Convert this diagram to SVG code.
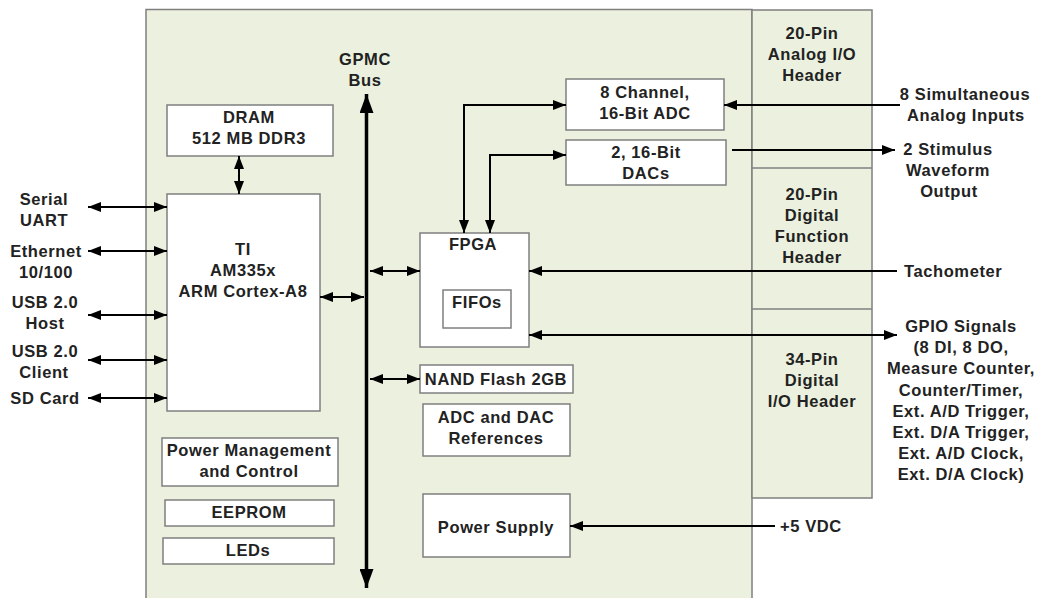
<svg xmlns="http://www.w3.org/2000/svg" width="1037" height="598" viewBox="0 0 1037 598">
<defs>
<style>
.board{fill:#EBF1DE;stroke:#7f7f7f;stroke-width:1.5}
.box{fill:#ffffff;stroke:#7f7f7f;stroke-width:1.5}
.ln{fill:none;stroke:#000;stroke-width:2}
.t{font-family:"Liberation Sans",Arial,sans-serif;font-weight:bold;font-size:16.5px;letter-spacing:0.6px;fill:#222;text-anchor:middle}
.s{text-anchor:start}
</style>
<marker id="ah" markerUnits="userSpaceOnUse" markerWidth="13" markerHeight="10" refX="13" refY="5" orient="auto-start-reverse" viewBox="0 0 13 10">
<path d="M0,0 L13,5 L0,10 z" fill="#000"/>
</marker>
<marker id="bh" markerUnits="userSpaceOnUse" markerWidth="19" markerHeight="14" refX="19" refY="7" orient="auto-start-reverse" viewBox="0 0 19 14">
<path d="M0,0 L19,7 L0,14 z" fill="#000"/>
</marker>
</defs>
<rect width="1037" height="598" fill="#fff"/>
<g id="board">
<rect class="board" x="146" y="9.5" width="606" height="600"/>
</g>
<g id="headers">
<rect class="board" x="752" y="10" width="120" height="488"/>
<line x1="752" y1="168" x2="872" y2="168" stroke="#7f7f7f" stroke-width="1.5"/>
<line x1="752" y1="309" x2="872" y2="309" stroke="#7f7f7f" stroke-width="1.5"/>
<text class="t" x="812" y="39">20-Pin</text>
<text class="t" x="812" y="60">Analog I/O</text>
<text class="t" x="812" y="81">Header</text>
<text class="t" x="812" y="200">20-Pin</text>
<text class="t" x="812" y="221">Digital</text>
<text class="t" x="812" y="242">Function</text>
<text class="t" x="812" y="263">Header</text>
<text class="t" x="812" y="365">34-Pin</text>
<text class="t" x="812" y="386">Digital</text>
<text class="t" x="812" y="407">I/O Header</text>
</g>
<g id="dram">
<rect class="box" x="167" y="105" width="166" height="51"/>
<text class="t" x="249" y="123">DRAM</text>
<text class="t" x="249" y="144">512 MB DDR3</text>
</g>
<g id="cpu">
<rect class="box" x="167" y="194" width="153" height="217"/>
<text class="t" x="243" y="255">TI</text>
<text class="t" x="243" y="276">AM335x</text>
<text class="t" x="243" y="297">ARM Cortex-A8</text>
</g>
<g id="pmc">
<rect class="box" x="162" y="438" width="176" height="48"/>
<text class="t" x="249" y="456">Power Management</text>
<text class="t" x="249" y="477">and Control</text>
</g>
<g id="eeprom">
<rect class="box" x="165" y="500" width="169" height="26"/>
<text class="t" x="249" y="518">EEPROM</text>
</g>
<g id="leds">
<rect class="box" x="163" y="538" width="171" height="26"/>
<text class="t" x="248" y="556">LEDs</text>
</g>
<g id="fpga">
<rect class="box" x="420" y="233" width="109" height="114"/>
<text class="t" x="473" y="250">FPGA</text>
<rect class="box" x="443" y="290" width="68" height="38"/>
<text class="t" x="477" y="308">FIFOs</text>
</g>
<g id="nand">
<rect class="box" x="420" y="365" width="153" height="28"/>
<text class="t" x="496" y="385">NAND Flash 2GB</text>
</g>
<g id="refs">
<rect class="box" x="423" y="404" width="147" height="52"/>
<text class="t" x="496" y="423">ADC and DAC</text>
<text class="t" x="496" y="444">References</text>
</g>
<g id="psu">
<rect class="box" x="423" y="494" width="147" height="63"/>
<text class="t" x="496" y="533">Power Supply</text>
</g>
<g id="adc">
<rect class="box" x="566" y="79" width="158" height="51"/>
<text class="t" x="645" y="98">8 Channel,</text>
<text class="t" x="645" y="119">16-Bit ADC</text>
</g>
<g id="dac">
<rect class="box" x="566" y="140" width="160" height="45"/>
<text class="t" x="646" y="158">2, 16-Bit</text>
<text class="t" x="646" y="179">DACs</text>
</g>
<g id="labels">
<text class="t" x="365" y="65">GPMC</text>
<text class="t" x="365" y="86">Bus</text>
<text class="t" x="44" y="205">Serial</text>
<text class="t" x="44" y="226">UART</text>
<text class="t" x="46" y="257">Ethernet</text>
<text class="t" x="46" y="278">10/100</text>
<text class="t" x="45" y="308">USB 2.0</text>
<text class="t" x="45" y="329">Host</text>
<text class="t" x="45" y="357">USB 2.0</text>
<text class="t" x="44" y="378">Client</text>
<text class="t" x="45" y="404">SD Card</text>
<text class="t" x="965" y="100">8 Simultaneous</text>
<text class="t" x="966" y="121">Analog Inputs</text>
<text class="t" x="948" y="155">2 Stimulus</text>
<text class="t" x="948" y="176">Waveform</text>
<text class="t" x="949" y="197">Output</text>
<text class="t s" x="904" y="277">Tachometer</text>
<text class="t" x="961" y="332">GPIO Signals</text>
<text class="t" x="961" y="353">(8 DI, 8 DO,</text>
<text class="t" x="961" y="374">Measure Counter,</text>
<text class="t" x="961" y="396">Counter/Timer,</text>
<text class="t" x="961" y="417">Ext. A/D Trigger,</text>
<text class="t" x="961" y="438">Ext. D/A Trigger,</text>
<text class="t" x="961" y="459">Ext. A/D Clock,</text>
<text class="t" x="961" y="480">Ext. D/A Clock)</text>
<text class="t s" x="780" y="532">+5 VDC</text>
</g>
<g id="connectors">
<line x1="366.5" y1="94" x2="366.5" y2="588" stroke="#000" stroke-width="3.5" marker-start="url(#bh)" marker-end="url(#bh)"/>
<line class="ln" x1="239" y1="156" x2="239" y2="194" marker-start="url(#ah)" marker-end="url(#ah)"/>
<line class="ln" x1="88" y1="207" x2="167" y2="207" marker-start="url(#ah)" marker-end="url(#ah)"/>
<line class="ln" x1="88" y1="251" x2="167" y2="251" marker-start="url(#ah)" marker-end="url(#ah)"/>
<line class="ln" x1="88" y1="315" x2="167" y2="315" marker-start="url(#ah)" marker-end="url(#ah)"/>
<line class="ln" x1="88" y1="360" x2="167" y2="360" marker-start="url(#ah)" marker-end="url(#ah)"/>
<line class="ln" x1="88" y1="398" x2="167" y2="398" marker-start="url(#ah)" marker-end="url(#ah)"/>
<line class="ln" x1="320" y1="297" x2="364" y2="297" marker-start="url(#ah)" marker-end="url(#ah)"/>
<line class="ln" x1="370" y1="271" x2="420" y2="271" marker-start="url(#ah)" marker-end="url(#ah)"/>
<line class="ln" x1="370" y1="379" x2="420" y2="379" marker-start="url(#ah)" marker-end="url(#ah)"/>
<polyline class="ln" points="464,233 464,105 566,105" marker-start="url(#ah)" marker-end="url(#ah)"/>
<polyline class="ln" points="490,233 490,155 566,155" marker-start="url(#ah)" marker-end="url(#ah)"/>
<line class="ln" x1="900" y1="105" x2="724" y2="105" marker-end="url(#ah)"/>
<line class="ln" x1="732" y1="150" x2="895" y2="150" marker-end="url(#ah)"/>
<line class="ln" x1="897" y1="271" x2="529" y2="271" marker-end="url(#ah)"/>
<line class="ln" x1="529" y1="335" x2="897" y2="335" marker-start="url(#ah)" marker-end="url(#ah)"/>
<line class="ln" x1="775" y1="526" x2="570" y2="526" marker-end="url(#ah)"/>
</g>
</svg>
